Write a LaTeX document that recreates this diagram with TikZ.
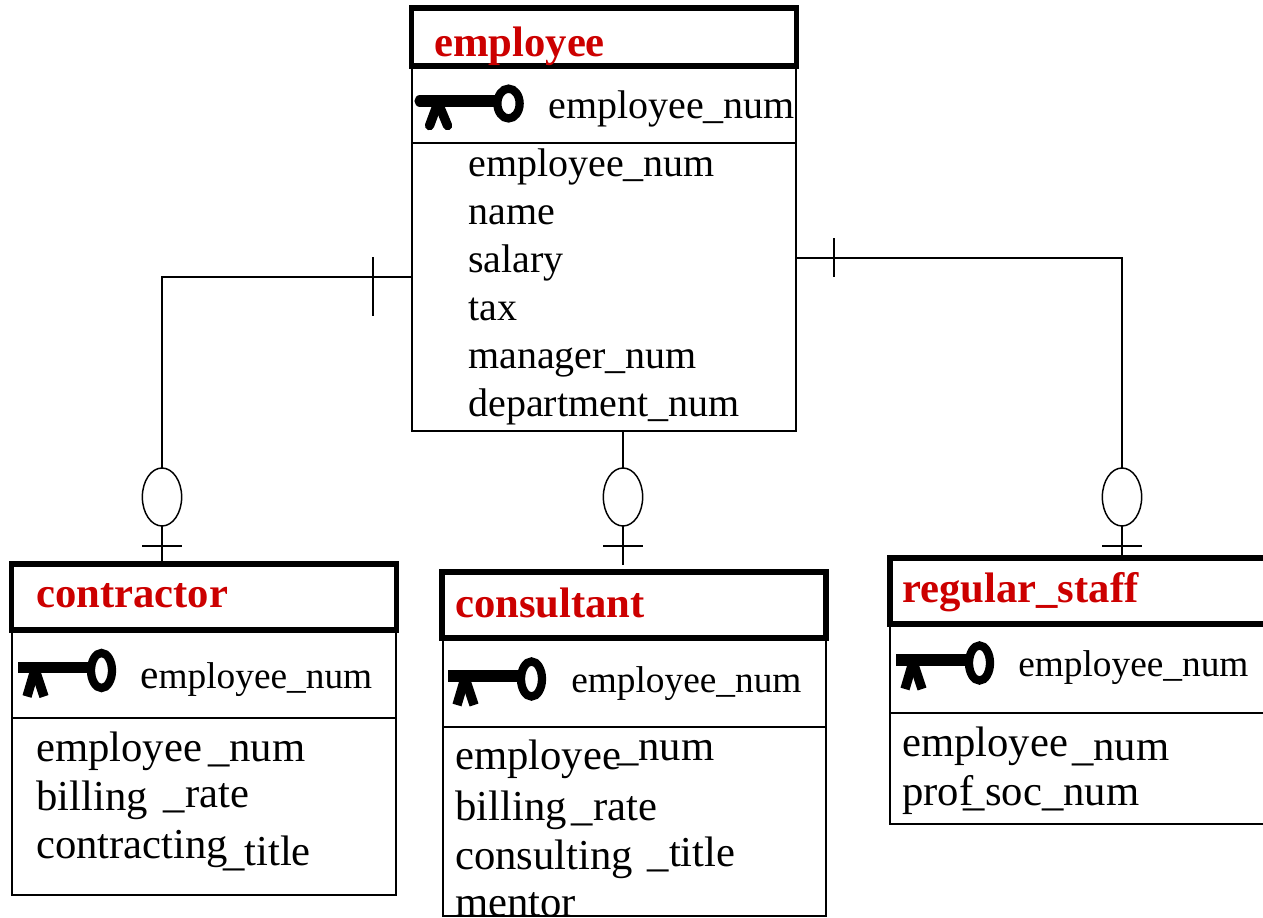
\documentclass[tikz,border=0pt]{standalone}
\usepackage{fontspec}
\setmainfont{Liberation Serif}
\usepackage{xcolor}
\usetikzlibrary{positioning,shapes.geometric}
\definecolor{titlered}{RGB}{204,0,0}
\newcommand{\shifted}[3]{\hspace*{#1}\raisebox{#2}{#3}}
\tikzset{
  rowbox/.style 2 args={draw,rectangle,line width=1.4pt,inner sep=0pt,outer sep=0pt,anchor=north west,
    minimum width=#1*0.75pt,minimum height=#2*0.75pt},
  titlebox/.style 2 args={rowbox={#1}{#2},line width=3.8pt},
  optional/.style={draw,ellipse,fill=white,line width=1.1pt,inner sep=0pt,
    minimum width=29.5pt,minimum height=43.5pt},
  relation/.style={line width=1.1pt},
  title/.style={anchor=base west,inner sep=0pt,text=titlered,font=\fontsize{32pt}{32pt}\selectfont\bfseries},
  attr/.style={anchor=base west,inner sep=0pt,font=\fontsize{30pt}{30pt}\selectfont},
  subattr/.style={anchor=base west,inner sep=0pt,font=\fontsize{32pt}{32pt}\selectfont},
  keyattr/.style={anchor=base west,inner sep=0pt,font=\fontsize{28pt}{28pt}\selectfont},
  keyicon/.pic={
    \draw[line width=8.4pt] (0,0) -- (70,0);
    \draw[line width=6.2pt] (83.5,3) ellipse [x radius=10.5,y radius=17.5];
    \draw[line width=7pt] (17,2) -- (9,29);
    \draw[line width=7pt] (17,2) -- (26,29);
  }
}
\begin{document}
\begin{tikzpicture}[x=0.75pt,y=-0.75pt]
  \useasboundingbox (0,0) rectangle (1263,917);
  % employee
  \node[rowbox={384}{77}] (empKey) at (412,66) {};
  \node[rowbox={384}{288}] (empAttr) at (412,143) {};
  \node[titlebox={385}{58}] (empTitle) at (411.5,8) {};
  \node[title] (empName) at (434,56.5) {employee};
  \pic[line cap=round,xscale=1.06,yscale=.85] at (420,101) {keyicon};
  \node[attr] (empPk) at (548,118.5) {employee\_num};
  \node[attr] (empA) at (468,176) {employee\_num};
  \node[attr] (empB) at (468,224) {name};
  \node[attr] (empC) at (468,272) {salary};
  \node[attr] (empD) at (468,320) {tax};
  \node[attr] (empE) at (468,368) {manager\_num};
  \node[attr] (empF) at (468,416) {department\_num};
  % contractor
  \node[rowbox={384}{88}] (contrKey) at (12,630) {};
  \node[rowbox={384}{177}] (contrAttr) at (12,718) {};
  \node[titlebox={385}{66}] (contrTitle) at (11.5,564) {};
  \node[title] (contrName) at (36,607) {contractor};
  \pic at (18,667.5) {keyicon};
  \node[keyattr] (contrPk) at (140,688.5) {{\fontsize{31pt}{31pt}\selectfont e}mployee\_num};
  \node[subattr] (contrA) at (36,761.5) {employee\shifted{4.5pt}{0pt}{\_num}};
  \node[subattr] (contrB) at (36,810.5) {billing\shifted{12pt}{2.25pt}{\_rate}};
  \node[subattr] (contrC) at (36,858.5) {contracting\shifted{-3.75pt}{-5.25pt}{\_title}};
  % consultant
  \node[rowbox={383}{89}] (consKey) at (443,638) {};
  \node[rowbox={383}{189}] (consAttr) at (443,727) {};
  \node[titlebox={384}{66}] (consTitle) at (442,572) {};
  \node[title] (consName) at (455,617) {consultant};
  \pic at (448,676) {keyicon};
  \node[keyattr] (consPk) at (571,692) {employee\_num};
  \node[subattr] (consA) at (455,769) {employee\shifted{-3pt}{6.5pt}{\_num}};
  \node[subattr] (consB) at (455,820) {billing\shifted{3.75pt}{0pt}{\_rate}};
  \node[subattr] (consC) at (455,869.5) {consulting\shifted{11pt}{2.25pt}{\_title}};
  \node[subattr] (consD) at (455,916) {mentor};
  % regular_staff
  \node[rowbox={400}{89}] (regKey) at (890,624) {};
  \node[rowbox={400}{111}] (regAttr) at (890,713) {};
  \node[titlebox={400}{66}] (regTitle) at (890,558) {};
  \node[title] (regName) at (902,602) {regular\_staff};
  \pic at (896,660) {keyicon};
  \node[keyattr] (regPk) at (1018,676) {employee\_num};
  \node[subattr] (regA) at (902,756) {employee\shifted{3pt}{-3.5pt}{\_num}};
  \node[subattr] (regB) at (902,805) {prof\shifted{-7.5pt}{0pt}{\_}\kern0.5pt soc\_num};
  % relations
  \coordinate (empLeft) at (412,277);
  \coordinate (empRight) at (796,258);
  \coordinate (empBottom) at (623,431);
  \coordinate (contrTop) at (162,564);
  \coordinate (consTop) at (623,565);
  \coordinate (regTop) at (1122,558);
  \draw[relation] (empLeft) -| (contrTop);
  \draw[relation] (empBottom) -- (consTop);
  \draw[relation] (empRight) -| (regTop);
  \draw[relation] (373,257) -- (373,316);
  \draw[relation] (834,238) -- (834,277);
  \foreach \x/\name in {162/contr,623/cons,1122/reg}{
    \node[optional] (\name Opt) at (\x,497) {};
    \draw[relation] (\x-20,546) -- (\x+20,546);
  }
\end{tikzpicture}
\end{document}
